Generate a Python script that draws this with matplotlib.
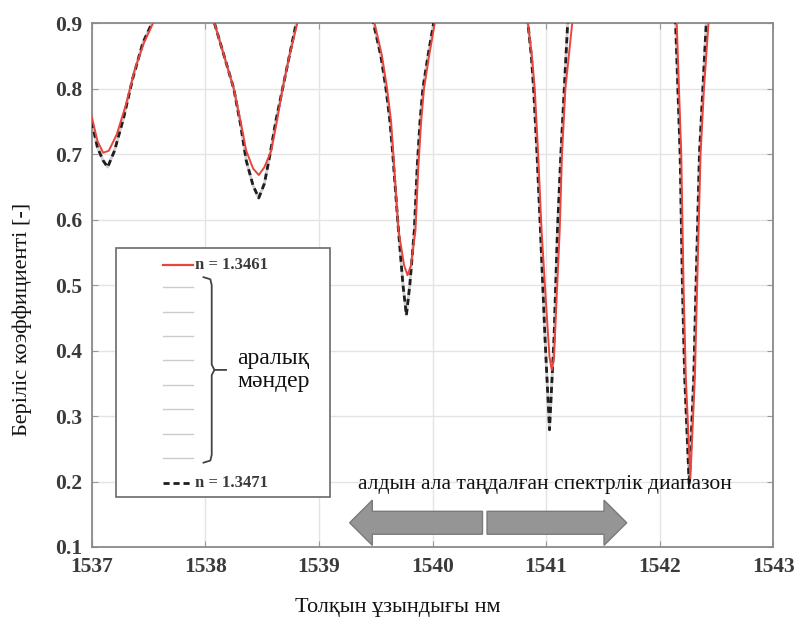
import matplotlib
matplotlib.use("Agg")
import matplotlib.pyplot as plt
from matplotlib.patches import Rectangle, FancyArrow

plt.rcParams["font.family"] = ["Liberation Serif", "DejaVu Serif"]

# --- data (wavelength nm, transmission) ---
red_x = [1537.00, 1537.05, 1537.10, 1537.15, 1537.22, 1537.30, 1537.38, 1537.46, 1537.54, 1537.62,
         1538.00, 1538.08, 1538.165, 1538.25, 1538.31, 1538.36, 1538.42, 1538.47, 1538.52, 1538.58,
         1538.63, 1538.68, 1538.74, 1538.81, 1538.90,
         1539.40, 1539.49, 1539.555, 1539.60, 1539.635, 1539.655, 1539.70, 1539.75, 1539.78, 1539.81,
         1539.85, 1539.875, 1539.90, 1539.925, 1539.97, 1540.02, 1540.10,
         1540.75, 1540.84, 1540.875, 1540.90, 1540.93, 1540.96, 1541.00, 1541.03, 1541.05, 1541.07,
         1541.09, 1541.12, 1541.14, 1541.17, 1541.20, 1541.23, 1541.30,
         1542.08, 1542.15, 1542.17, 1542.19, 1542.21, 1542.23, 1542.27, 1542.31, 1542.33, 1542.36,
         1542.39, 1542.43, 1542.50, 1543.00]
red_y = [0.757, 0.720, 0.702, 0.705, 0.730, 0.775, 0.830, 0.870, 0.900, 0.930,
         0.935, 0.900, 0.850, 0.800, 0.750, 0.705, 0.678, 0.668, 0.680, 0.705,
         0.750, 0.800, 0.850, 0.900, 0.940,
         0.940, 0.900, 0.850, 0.800, 0.750, 0.700, 0.584, 0.530, 0.515, 0.530,
         0.584, 0.680, 0.750, 0.800, 0.850, 0.900, 0.940,
         0.940, 0.900, 0.850, 0.800, 0.700, 0.584, 0.470, 0.390, 0.370, 0.390,
         0.470, 0.584, 0.700, 0.800, 0.850, 0.900, 0.940,
         0.940, 0.900, 0.800, 0.700, 0.500, 0.360, 0.205, 0.360, 0.500, 0.700,
         0.800, 0.900, 0.940, 0.980]

black_x = [1537.00, 1537.05, 1537.10, 1537.14, 1537.20, 1537.28, 1537.36, 1537.45, 1537.53, 1537.62,
           1538.00, 1538.08, 1538.165, 1538.25, 1538.31, 1538.36, 1538.42, 1538.47, 1538.52, 1538.57,
           1538.62, 1538.68, 1538.74, 1538.80, 1538.90,
           1539.40, 1539.48, 1539.545, 1539.59, 1539.625, 1539.65, 1539.70, 1539.74, 1539.77, 1539.80,
           1539.84, 1539.865, 1539.89, 1539.915, 1539.96, 1540.01, 1540.10,
           1540.75, 1540.84, 1540.87, 1540.89, 1540.92, 1540.95, 1540.99, 1541.03, 1541.07, 1541.10,
           1541.13, 1541.16, 1541.175, 1541.19, 1541.27,
           1542.08, 1542.14, 1542.16, 1542.18, 1542.20, 1542.22, 1542.26, 1542.30, 1542.32, 1542.35,
           1542.38, 1542.41, 1542.50, 1543.00]
black_y = [0.749, 0.710, 0.690, 0.680, 0.705, 0.755, 0.815, 0.870, 0.900, 0.930,
           0.935, 0.900, 0.850, 0.800, 0.745, 0.690, 0.652, 0.633, 0.655, 0.700,
           0.750, 0.800, 0.850, 0.900, 0.940,
           0.940, 0.900, 0.850, 0.800, 0.750, 0.700, 0.584, 0.500, 0.454, 0.500,
           0.584, 0.680, 0.750, 0.800, 0.850, 0.900, 0.940,
           0.940, 0.900, 0.850, 0.800, 0.700, 0.584, 0.420, 0.279, 0.420, 0.584,
           0.700, 0.800, 0.850, 0.900, 0.940,
           0.940, 0.900, 0.800, 0.700, 0.500, 0.360, 0.195, 0.360, 0.500, 0.700,
           0.800, 0.900, 0.940, 0.980]

label_first = "n = 1.3461"
label_last = "n = 1.3471"
n_intermediate = 8

# selected range arrows (data coords: start x, end x, centre y)
arrow_left = (1540.44, 1539.27, 0.137)
arrow_right = (1540.48, 1541.71, 0.137)

fig = plt.figure(figsize=(7.98, 6.32), dpi=100)
ax = fig.add_axes([0.115, 0.1345, 0.854, 0.829])

ax.plot(black_x, black_y, color="#cfcfcf", lw=2.0, zorder=2)
ax.plot(black_x, black_y, color="#1e1e1e", lw=2.0, ls=(0, (2.2, 1.4)), zorder=3)
ax.plot(red_x, red_y, color="#e8453f", lw=1.4, zorder=4)

ax.set_xlim(1537, 1543)
ax.set_ylim(0.1, 0.9)
ax.set_xticks(range(1537, 1544))
ax.set_yticks([0.1, 0.2, 0.3, 0.4, 0.5, 0.6, 0.7, 0.8, 0.9])
ax.set_yticklabels(["0.1", "0.2", "0.3", "0.4", "0.5", "0.6", "0.7", "0.8", "0.9"])
ax.grid(True, color="#e4e4e4", lw=1.0)
ax.set_axisbelow(True)
for sp in ax.spines.values():
    sp.set_color("#8a8a8a")
    sp.set_linewidth(1.3)
ax.tick_params(direction="in", top=True, right=True, length=4, color="#999999",
               labelsize=15.5, labelcolor="#3a3a3a", pad=7)
for lab in ax.get_xticklabels() + ax.get_yticklabels():
    lab.set_fontweight("bold")

# arrows for the pre-selected spectral range
for x0, x1, yc in (arrow_left, arrow_right):
    ax.add_patch(FancyArrow(x0, yc, x1 - x0, 0, width=0.035, head_width=0.069,
                            head_length=0.2, length_includes_head=True,
                            facecolor="#959595", edgecolor="#7a7a7a", lw=1.0, zorder=5))
ax.text(1540.99, 0.195, "алдын ала таңдалған спектрлік диапазон", fontsize=15.5,
        ha="center", va="center", color="#111111", zorder=6)

# hand-made legend
tr = ax.transAxes
ax.add_patch(Rectangle((0.035, 0.095), 0.314, 0.476, transform=tr, facecolor="white",
                       edgecolor="#6a6a6a", lw=1.2, zorder=6))
lx0, lx1, tx = 0.104, 0.148, 0.152
ax.plot([lx0, lx1], [0.538, 0.538], transform=tr, color="#e8453f", lw=1.6, zorder=7)
ax.text(tx, 0.538, label_first, transform=tr, fontsize=12, fontweight="bold",
        va="center", ha="left", color="#3a3a3a", zorder=7)
for i in range(n_intermediate):
    yy = 0.496 - i * 0.0466
    ax.plot([lx0, lx1], [yy, yy], transform=tr, color="#cccccc", lw=1.0, zorder=7)
ax.plot([lx0, lx1], [0.122, 0.122], transform=tr, color="#1e1e1e", lw=2.0,
        ls=(0, (2.2, 1.4)), zorder=7)
ax.text(tx, 0.122, label_last, transform=tr, fontsize=12, fontweight="bold",
        va="center", ha="left", color="#3a3a3a", zorder=7)

# curly brace
bx = [0.164, 0.174, 0.176, 0.176, 0.180, 0.197]
by = [0.515, 0.511, 0.500, 0.348, 0.338, 0.338]
ax.plot(bx, by, transform=tr, color="#444444", lw=1.3, zorder=7)
ax.plot(bx[:-1], [0.338 - (v - 0.338) for v in by[:-1]], transform=tr,
        color="#444444", lw=1.3, zorder=7)
ax.text(0.214, 0.338, "аралық\nмәндер", transform=tr, fontsize=17, va="center",
        ha="left", color="#111111", linespacing=1.15, zorder=7)

fig.text(0.028, 0.494, "Беріліс коэффициенті [-]", rotation=90, fontsize=16,
         ha="center", va="center", color="#111111")
fig.text(0.499, 0.038, "Толқын ұзындығы нм", fontsize=16, ha="center", va="center",
         color="#111111")

fig.savefig("out.png", dpi=100)
